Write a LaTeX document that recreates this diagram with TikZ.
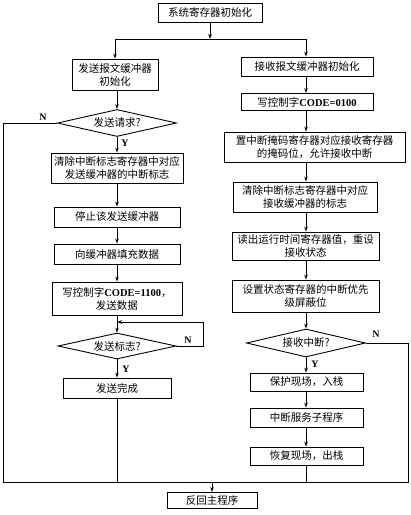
\documentclass[tikz,border=0pt]{standalone}
\usepackage{fontspec}
\setmainfont{Liberation Serif}
\newfontfamily\cjk{Noto Sans CJK SC}
\usetikzlibrary{arrows.meta,shapes.geometric}
\tikzset{
  box/.style={draw, line width=0.9pt, inner sep=1pt, align=center,
    font=\cjk\fontsize{10.5}{13}\selectfont},
  dia/.style={draw, line width=0.9pt, diamond, aspect=4.4, inner sep=0pt, align=center,
    font=\cjk\fontsize{10.5}{13}\selectfont},
  conn/.style={line width=0.8pt},
  arr/.style={line width=0.8pt, -{Stealth[length=5pt,width=3.6pt]}},
  lbl/.style={font=\bfseries\fontsize{10}{12}\selectfont, inner sep=0pt}
}
\newcommand{\lat}[1]{{\fontspec{Liberation Serif}\bfseries #1}}
\begin{document}
\begin{tikzpicture}[x=1pt,y=-1pt]
\useasboundingbox (0,0) rectangle (411,515);
% top
\node[box, minimum width=104pt, minimum height=19pt] (top) at (210,12.5) {系统寄存器初始化};
\coordinate (j) at (210,39);
\coordinate (jl) at (115,39);
\coordinate (jr) at (306,39);
% left column
\node[box, minimum width=86pt, minimum height=31pt] (sinit) at (115,74.5) {发送报文缓冲器\\初始化};
\node[dia, minimum width=119pt, minimum height=27pt] (d1) at (117,123) {发送请求?};
\node[box, minimum width=132pt, minimum height=30pt] (c1) at (117,168) {清除中断标志寄存器中对应\\发送缓冲器的中断标志};
\node[box, minimum width=126pt, minimum height=20pt] (stop) at (117,217) {停止该发送缓冲器};
\node[box, minimum width=126pt, minimum height=20pt] (fill) at (117,254) {向缓冲器填充数据};
\node[box, minimum width=130pt, minimum height=33pt] (code) at (117,298.5) {写控制字\lat{CODE=1100}，\\发送数据};
\node[dia, minimum width=118pt, minimum height=26pt] (d2) at (117,346) {发送标志?};
\node[box, minimum width=108pt, minimum height=20pt] (done) at (117,388) {发送完成};
% right column
\node[box, minimum width=132pt, minimum height=19pt] (rinit) at (307,66.5) {接收报文缓冲器初始化};
\node[box, minimum width=132pt, minimum height=17pt] (rcode) at (307,102) {写控制字\lat{CODE=0100}};
\node[box, minimum width=181pt, minimum height=30pt] (mask) at (314.5,147) {置中断掩码寄存器对应接收寄存器\\的掩码位，允许接收中断};
\node[box, minimum width=144pt, minimum height=30pt] (clr2) at (305,197) {清除中断标志寄存器中对应\\接收缓冲器的标志};
\node[box, minimum width=147pt, minimum height=28pt] (rt) at (305.5,246) {读出运行时间寄存器值，重设\\接收状态};
\node[box, minimum width=147pt, minimum height=32pt] (pri) at (305.5,296) {设置状态寄存器的中断优先\\级屏蔽位};
\node[dia, minimum width=119pt, minimum height=28pt] (d3) at (306,343) {接收中断?};
\node[box, minimum width=113pt, minimum height=18pt] (save) at (306.5,382) {保护现场，入栈};
\node[box, minimum width=113pt, minimum height=19pt] (isr) at (306.5,417.5) {中断服务子程序};
\node[box, minimum width=113pt, minimum height=18pt] (rest) at (306.5,456) {恢复现场，出栈};
% return
\node[box, minimum width=90pt, minimum height=16pt] (ret) at (212,500.5) {反回主程序};
% coordinates for loops
\coordinate (bl) at (3,482);
\coordinate (br) at (408,482);
\coordinate (nl) at (3,123);
\coordinate (nr) at (408,343);
\coordinate (lp1) at (203,322);
\coordinate (lp2) at (203,346);
\coordinate (jret) at (212,482);
% connectors
\draw[arr] (top.south) -- (j);
\draw[conn] (jl) -- (jr);
\draw[arr] (jl) -- (jl |- sinit.north);
\draw[arr] (jr) -- (jr |- rinit.north);
\draw[arr] (sinit.south -| d1.north) -- (d1.north);
\draw[arr] (d1.south) -- (d1.south |- c1.north);
\draw[arr] (c1.south) -- (stop.north);
\draw[arr] (stop.south) -- (fill.north);
\draw[arr] (fill.south) -- (code.north);
\draw[arr] (code.south) -- (d2.north);
\draw[arr] (d2.south) -- (done.north);
\draw[conn] (d2.east) -- (lp2) -- (lp1);
\draw[arr] (lp1) -- (lp1 -| d2.north);
\draw[conn] (d1.west) -- (nl) -- (bl) -- (br) -- (nr) -- (d3.east);
\draw[conn] (done.south) -- (done.south |- bl);
\draw[conn] (rest.south -| d3.south) -- (d3.south |- bl);
\draw[arr] (jret) -- (ret.north);
\draw[arr] (rinit.south -| jr) -- (jr |- rcode.north);
\draw[arr] (rcode.south -| jr) -- (jr |- mask.north);
\draw[arr] (mask.south -| jr) -- (jr |- clr2.north);
\draw[arr] (clr2.south -| jr) -- (jr |- rt.north);
\draw[arr] (rt.south -| jr) -- (jr |- pri.north);
\draw[arr] (pri.south -| jr) -- (d3.north);
\draw[arr] (d3.south) -- (d3.south |- save.north);
\draw[arr] (save.south -| d3.south) -- (d3.south |- isr.north);
\draw[arr] (isr.south -| d3.south) -- (d3.south |- rest.north);
% labels
\node[lbl] (n1) at (43,117) {N};
\node[lbl] (y1) at (125,143) {Y};
\node[lbl] (n2) at (188,340) {N};
\node[lbl] (y2) at (126,369) {Y};
\node[lbl] (n3) at (376,334) {N};
\node[lbl] (y3) at (315,364) {Y};
\end{tikzpicture}
\end{document}
